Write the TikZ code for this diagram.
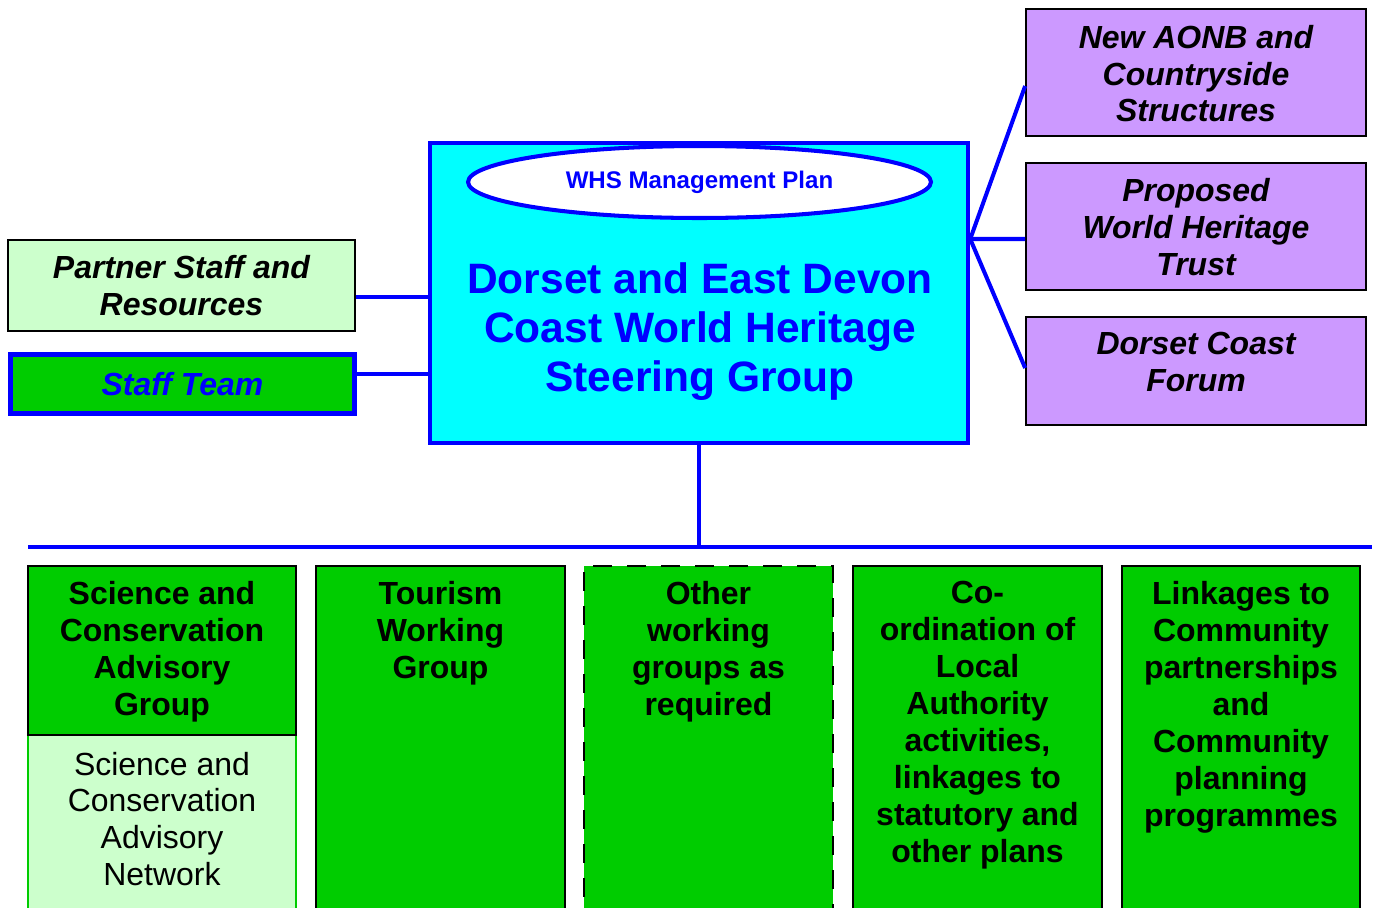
\documentclass[tikz,border=0pt]{standalone}
\usepackage{fontspec}
\setmainfont{Liberation Sans}
\usetikzlibrary{positioning,shapes.geometric}

\definecolor{whsblue}{HTML}{0000FF}
\definecolor{whscyan}{HTML}{00FFFF}
\definecolor{grpgreen}{HTML}{00CC00}
\definecolor{palegreen}{HTML}{CCFFCC}
\definecolor{lilac}{HTML}{CC99FF}

\begin{document}
\begin{tikzpicture}[
    x=0.02cm, y=-0.02cm,
    font=\fontsize{18.2}{21}\selectfont,
    box/.style     ={draw, line width=1pt, inner sep=0pt},
    side/.style    ={box, fill=lilac, minimum width=6.8cm},
    grp/.style     ={box, fill=grpgreen, minimum width=4.98cm, minimum height=6.92cm},
    sidetxt/.style ={align=center, inner sep=0pt,
                     font=\fontsize{18.2}{21}\selectfont\bfseries\itshape},
    grptxt/.style  ={align=center, inner sep=0pt,
                     font=\fontsize{18.2}{21}\selectfont\bfseries},
    link/.style    ={whsblue, line width=2.3pt},
  ]
  \useasboundingbox (0,0) rectangle (1376,907);

  % ------------------------------------------------------- steering group ---
  \node[draw=whsblue, line width=2.6pt, fill=whscyan, inner sep=0pt,
        minimum width=10.76cm, minimum height=6cm] (main) at (699,293) {};
  \node[ellipse, draw=whsblue, line width=2.3pt, fill=white,
        minimum width=9.26cm, minimum height=1.44cm, text=whsblue,
        font=\fontsize{13.7}{16}\selectfont\bfseries] (plan) at (699.5,182)
        {WHS Management Plan};
  \node[align=center, inner sep=0pt, text=whsblue,
        font=\fontsize{24.2}{27.9}\selectfont\bfseries] (title) at (700,332)
        {Dorset and East Devon\\Coast World Heritage\\Steering Group};

  % ----------------------------------------------------------- left side ---
  \node[box, fill=palegreen, minimum width=6.94cm, minimum height=1.82cm,
        align=center, font=\fontsize{18.2}{21}\selectfont\bfseries\itshape]
        (partner) at (181.5,285.5) {Partner Staff and\\Resources};
  \node[box, draw=whsblue, line width=2.8pt, fill=grpgreen, text=whsblue,
        minimum width=6.88cm, minimum height=1.18cm,
        font=\fontsize{18.2}{21}\selectfont\bfseries\itshape]
        (staff) at (182.5,384) {Staff Team};

  % ---------------------------------------------------------- right side ---
  \node[side, minimum height=2.54cm] (aonb)  at (1196,72.5) {};
  \node[side, minimum height=2.54cm] (trust) at (1196,226.5) {};
  \node[side, minimum height=2.16cm] (forum) at (1196,371) {};
  \node[sidetxt, below=0.33cm of aonb.north]  (aonbtxt)
        {New AONB and\\Countryside\\Structures};
  \node[sidetxt, below=0.32cm of trust.north] (trusttxt)
        {Proposed\\World Heritage\\Trust};
  \node[sidetxt, below=0.32cm of forum.north] (forumtxt)
        {Dorset Coast\\Forum};

  % ------------------------------------------------------ working groups ---
  \node[box, draw=grpgreen, line width=0.6pt, fill=palegreen,
        minimum width=5.36cm, minimum height=3.54cm] (netw) at (162,823.5) {};
  \node[box, fill=grpgreen, minimum width=5.36cm, minimum height=3.38cm]
        (sci) at (162,650.5) {};
  \node[grp] (tour)  at (440.5,739) {};
  \node[grp, dash pattern=on 0.38cm off 0.3cm] (other) at (708.5,739) {};
  \node[grp] (coord) at (977.5,739) {};
  \node[grp, minimum width=4.76cm] (links) at (1241,739) {};

  \node[grptxt, below=0.32cm of sci.north]   (scitxt)
        {Science and\\Conservation\\Advisory\\Group};
  \node[grptxt, font=\fontsize{18.2}{21}\selectfont, below=0.34cm of netw.north]
        (netwtxt) {Science and\\Conservation\\Advisory\\Network};
  \node[grptxt, below=0.32cm of tour.north]  (tourtxt)
        {Tourism\\Working\\Group};
  \node[grptxt, below=0.32cm of other.north] (othertxt)
        {Other\\working\\groups as\\required};
  \node[grptxt, below=0.32cm of coord.north] (coordtxt)
        {Co-\\ordination of\\Local\\Authority\\activities,\\linkages to\\statutory and\\other plans};
  \node[grptxt, below=0.32cm of links.north] (linkstxt)
        {Linkages to\\Community\\partnerships\\and\\Community\\planning\\programmes};

  % ============================================================= links ===
  \coordinate (hub)  at ([yshift=1.08cm]main.east);
  \coordinate (busL) at (28,547);
  \coordinate (busR) at (1372,547);

  \draw[link] (partner.east |- 0,297) -- (main.west |- 0,297);
  \draw[link] (staff.east |- 0,374)   -- (main.west |- 0,374);

  \draw[link] (hub) -- ([yshift=-0.27cm]aonb.west);
  \draw[link] (hub) -- ([yshift=-0.25cm]trust.west);
  \draw[link] (hub) -- ([yshift=0.06cm]forum.west);

  \draw[link] (main.south) -- (main.south |- busL);
  \draw[link, line width=2.8pt] (busL) -- (busR);

\end{tikzpicture}
\end{document}
